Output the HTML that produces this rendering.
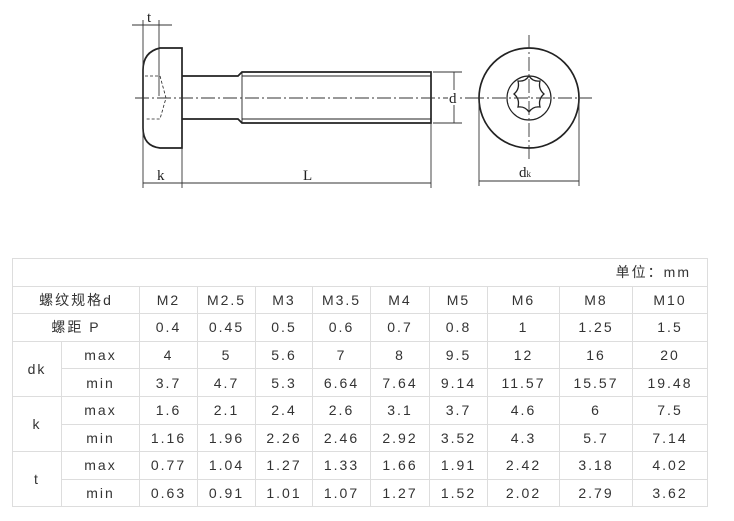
<!DOCTYPE html>
<html><head><meta charset="utf-8"><style>
body{margin:0;background:#fff;width:734px;height:521px;overflow:hidden;position:relative;font-family:"Liberation Sans","Noto Sans CJK SC",sans-serif;}
svg{position:absolute;left:0;top:0}
table{position:absolute;left:12px;top:258px;border-collapse:collapse;table-layout:fixed;}
td{border:1px solid #ddd;height:26.6px;padding:0;text-align:center;font-size:14px;color:#333;letter-spacing:2px;}
</style></head><body>
<svg width="734" height="240" viewBox="0 0 734 240">
<g fill="none" stroke="#222" stroke-width="1.7">
<path d="M182,48 L160,48 Q143,52 143,70 L143,128 Q143,146 160,148 L182,148 Z"/>
<path d="M182,76 L238,76 L242,72 L431,72 L431,123 L242,123 L238,119 L182,119"/>
<line x1="242" y1="76" x2="431" y2="76" stroke-width="0.9"/>
<line x1="242" y1="119" x2="431" y2="119" stroke-width="0.9"/>
<line x1="242" y1="72" x2="242" y2="123" stroke-width="0.9"/>
<path d="M145,76 L160,76 L166,98 L160,119 L145,119" stroke-dasharray="3,2" stroke-width="0.8"/>
<circle cx="529" cy="98" r="50"/>
<path d="M529,76 q4,6 11,5 q-2,8 4,13 q-6,5 -4,13 q-7,-1 -11,5 q-4,-6 -11,-5 q2,-8 -4,-13 q6,-5 4,-13 q7,1 11,-5z" stroke-width="1.3"/>
<circle cx="529" cy="98" r="22" stroke-width="1.2"/>
</g>
<g stroke="#333" stroke-width="0.9" fill="none">
<line x1="135" y1="98" x2="470" y2="98" stroke-dasharray="14,3,2,3"/>
<line x1="470" y1="98" x2="592" y2="98" stroke-dasharray="14,3,2,3"/>
<line x1="529" y1="35" x2="529" y2="162" stroke-dasharray="14,3,2,3"/>
<line x1="143" y1="20" x2="143" y2="188"/>
<line x1="159" y1="20" x2="159" y2="96"/>
<line x1="132" y1="25" x2="172" y2="25"/>
<line x1="182" y1="148" x2="182" y2="188"/>
<line x1="431" y1="123" x2="431" y2="188"/>
<line x1="143" y1="183" x2="431" y2="183"/>
<line x1="433" y1="72" x2="462" y2="72"/>
<line x1="433" y1="123" x2="462" y2="123"/>
<line x1="454" y1="72" x2="454" y2="123"/>
<line x1="479" y1="100" x2="479" y2="186"/>
<line x1="579" y1="100" x2="579" y2="186"/>
<line x1="479" y1="181" x2="579" y2="181"/>
</g>
<rect x="448" y="90" width="12" height="15" fill="#fff"/>
<g font-family="Liberation Serif,serif" font-size="15" fill="#222">
<text x="147" y="22">t</text>
<text x="157" y="180">k</text>
<text x="303" y="180">L</text>
<text x="449" y="103">d</text>
<text x="519" y="177">d<tspan font-size="9">k</tspan></text>
</g>
</svg>
<table>
<colgroup><col style="width:49px"><col style="width:78px"><col style="width:58px"><col style="width:58px"><col style="width:57px"><col style="width:58px"><col style="width:59px"><col style="width:58px"><col style="width:72px"><col style="width:73px"><col style="width:75px"></colgroup>
<tr><td colspan="11" style="text-align:right;padding-right:16px">单位：mm</td></tr>
<tr><td colspan="2">螺纹规格d</td><td>M2</td><td>M2.5</td><td>M3</td><td>M3.5</td><td>M4</td><td>M5</td><td>M6</td><td>M8</td><td>M10</td></tr>
<tr><td colspan="2">螺距 P</td><td>0.4</td><td>0.45</td><td>0.5</td><td>0.6</td><td>0.7</td><td>0.8</td><td>1</td><td>1.25</td><td>1.5</td></tr>
<tr><td rowspan="2">dk</td><td>max</td><td>4</td><td>5</td><td>5.6</td><td>7</td><td>8</td><td>9.5</td><td>12</td><td>16</td><td>20</td></tr>
<tr><td>min</td><td>3.7</td><td>4.7</td><td>5.3</td><td>6.64</td><td>7.64</td><td>9.14</td><td>11.57</td><td>15.57</td><td>19.48</td></tr>
<tr><td rowspan="2">k</td><td>max</td><td>1.6</td><td>2.1</td><td>2.4</td><td>2.6</td><td>3.1</td><td>3.7</td><td>4.6</td><td>6</td><td>7.5</td></tr>
<tr><td>min</td><td>1.16</td><td>1.96</td><td>2.26</td><td>2.46</td><td>2.92</td><td>3.52</td><td>4.3</td><td>5.7</td><td>7.14</td></tr>
<tr><td rowspan="2">t</td><td>max</td><td>0.77</td><td>1.04</td><td>1.27</td><td>1.33</td><td>1.66</td><td>1.91</td><td>2.42</td><td>3.18</td><td>4.02</td></tr>
<tr><td>min</td><td>0.63</td><td>0.91</td><td>1.01</td><td>1.07</td><td>1.27</td><td>1.52</td><td>2.02</td><td>2.79</td><td>3.62</td></tr>
</table>
</body></html>
